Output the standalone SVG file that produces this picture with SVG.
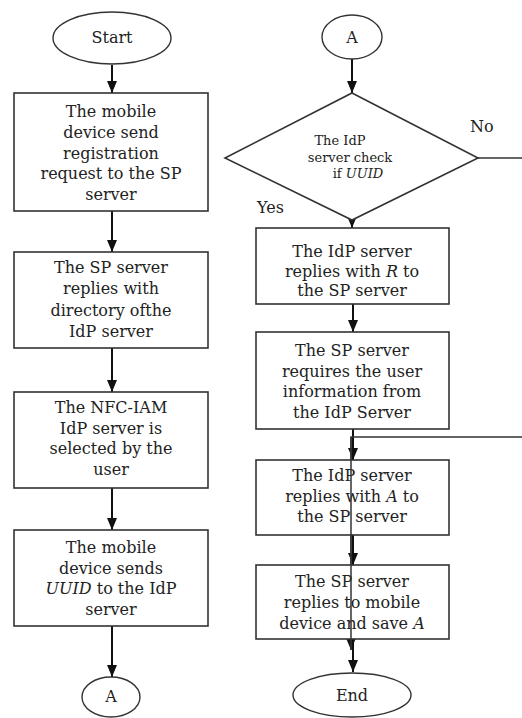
<svg xmlns="http://www.w3.org/2000/svg" width="522" height="718" viewBox="0 0 522 718">
<style>
.box{fill:#fff;stroke:#333;stroke-width:1.6}
.term{fill:#fff;stroke:#333;stroke-width:1.4}
.t{font-family:"DejaVu Serif","Liberation Serif",serif;font-size:16px;fill:#222;text-anchor:middle}
.s{font-family:"DejaVu Serif","Liberation Serif",serif;font-size:13px;fill:#222;text-anchor:middle}
.lbl{font-family:"DejaVu Serif","Liberation Serif",serif;font-size:16px;fill:#222}
.i{font-style:italic}
.c{fill:none;stroke:#111;stroke-width:2}
.n{fill:none;stroke:#333;stroke-width:1.5}
</style>
<defs>
<marker id="ah" viewBox="0 0 12 10" refX="12" refY="5" markerWidth="12" markerHeight="10" markerUnits="userSpaceOnUse" orient="auto">
<path d="M0,0 L12,5 L0,10 z" fill="#111"/>
</marker>
</defs>
<rect width="522" height="718" fill="#fff"/>
<g id="connectors">
<line class="c" x1="112" y1="65" x2="112" y2="93" marker-end="url(#ah)"/>
<line class="c" x1="112" y1="211" x2="112" y2="252" marker-end="url(#ah)"/>
<line class="c" x1="112" y1="348" x2="112" y2="392" marker-end="url(#ah)"/>
<line class="c" x1="112" y1="488" x2="112" y2="530" marker-end="url(#ah)"/>
<line class="c" x1="112" y1="626" x2="112" y2="677" marker-end="url(#ah)"/>
<line class="c" x1="352" y1="59" x2="352" y2="93" marker-end="url(#ah)"/>
<line class="c" x1="352" y1="218" x2="352" y2="228" marker-end="url(#ah)"/>
<line class="c" x1="353" y1="304" x2="353" y2="332" marker-end="url(#ah)"/>
<line class="c" x1="353" y1="429" x2="353" y2="460" marker-end="url(#ah)"/>
<line class="c" x1="353" y1="535" x2="353" y2="565" marker-end="url(#ah)"/>
<line class="c" x1="353" y1="639" x2="353" y2="672" marker-end="url(#ah)"/>
<path class="n" d="M478,158 H540 V437 H351 V650" marker-end="url(#ah)"/>
</g>
<g id="start">
<ellipse class="term" cx="112" cy="38" rx="59" ry="26"/>
<text class="t" x="112" y="43">Start</text>
</g>
<g id="box1">
<rect class="box" x="14" y="93" width="194" height="118"/>
<text class="t" x="111" y="117">The mobile</text>
<text class="t" x="111" y="138">device send</text>
<text class="t" x="111" y="159">registration</text>
<text class="t" x="111" y="179">request to the SP</text>
<text class="t" x="111" y="200">server</text>
</g>
<g id="box2">
<rect class="box" x="14" y="252" width="194" height="96"/>
<text class="t" x="111" y="273">The SP server</text>
<text class="t" x="111" y="294">replies with</text>
<text class="t" x="111" y="316">directory ofthe</text>
<text class="t" x="111" y="337">IdP server</text>
</g>
<g id="box3">
<rect class="box" x="14" y="392" width="194" height="96"/>
<text class="t" x="111" y="413">The NFC-IAM</text>
<text class="t" x="111" y="434">IdP server is</text>
<text class="t" x="111" y="454">selected by the</text>
<text class="t" x="111" y="475">user</text>
</g>
<g id="box4">
<rect class="box" x="14" y="530" width="194" height="96"/>
<text class="t" x="111" y="553">The mobile</text>
<text class="t" x="111" y="574">device sends</text>
<text class="t" x="111" y="594"><tspan class="i">UUID</tspan> to the IdP</text>
<text class="t" x="111" y="615">server</text>
</g>
<g id="connA1">
<ellipse class="term" cx="111" cy="697" rx="29" ry="20"/>
<text class="t" x="111" y="702">A</text>
</g>
<g id="connA2">
<ellipse class="term" cx="352" cy="37" rx="30" ry="22"/>
<text class="t" x="352" y="43">A</text>
</g>
<g id="decision">
<polygon class="box" points="352,93 478,158 352,220 225,158"/>
<text class="s" x="340" y="145">The IdP</text>
<text class="s" x="350" y="162">server check</text>
<text class="s" x="358" y="178">if <tspan class="i">UUID</tspan></text>
<text class="lbl" x="470" y="132">No</text>
<text class="lbl" x="257" y="213">Yes</text>
</g>
<g id="boxR1">
<rect class="box" x="256" y="228" width="193" height="76"/>
<text class="t" x="352" y="257">The IdP server</text>
<text class="t" x="352" y="277">replies with <tspan class="i">R</tspan> to</text>
<text class="t" x="352" y="296">the SP server</text>
</g>
<g id="boxR2">
<rect class="box" x="256" y="332" width="193" height="97"/>
<text class="t" x="352" y="356">The SP server</text>
<text class="t" x="352" y="377">requires the user</text>
<text class="t" x="352" y="397">information from</text>
<text class="t" x="352" y="418">the IdP Server</text>
</g>
<g id="boxR3">
<rect class="box" x="256" y="460" width="193" height="75"/>
<text class="t" x="352" y="481">The IdP server</text>
<text class="t" x="352" y="502">replies with <tspan class="i">A</tspan> to</text>
<text class="t" x="352" y="522">the SP server</text>
</g>
<g id="boxR4">
<rect class="box" x="256" y="565" width="193" height="74"/>
<text class="t" x="352" y="587">The SP server</text>
<text class="t" x="352" y="608">replies to mobile</text>
<text class="t" x="352" y="629">device and save <tspan class="i">A</tspan></text>
</g>
<g id="end">
<ellipse class="term" cx="352" cy="695" rx="59" ry="22"/>
<text class="t" x="352" y="701">End</text>
</g>
<line class="n" x1="351" y1="437" x2="351" y2="650"/>
</svg>
